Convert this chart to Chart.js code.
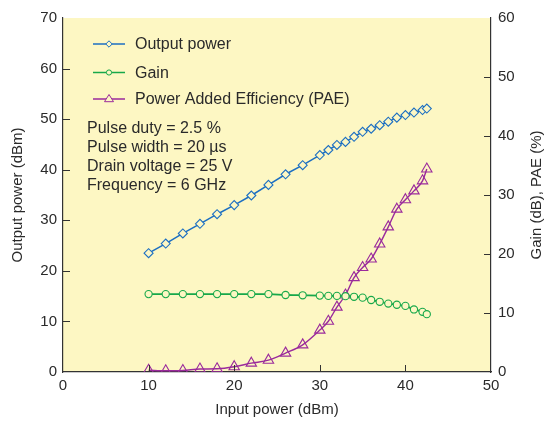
<!DOCTYPE html>
<html>
  <head>
    <title>Output power, gain and PAE</title>
    <meta name="viewport" content="width=device-width, initial-scale=1" />
    <script src="https://cdn.jsdelivr.net/npm/chart.js"></script>
    <style>
      html, body { margin: 0; padding: 0; background: #fff; }
      .chart-box { width: 546px; height: 421px; position: relative; }
    </style>
  </head>
  <body>
    <div class="chart-box">
      <canvas id="paChart"></canvas>
    </div>
    <script>
      // 数据
      const inputPower = [10, 12, 14, 16, 18, 20, 22, 24, 26, 28, 30, 31, 32, 33, 34, 35, 36, 37, 38, 39, 40, 41, 42, 42.5];
      const outputPower = [23.5, 25.4, 27.4, 29.3, 31.2, 33.0, 34.9, 37.0, 39.1, 40.9, 42.9, 43.9, 44.9, 45.5, 46.5, 47.5, 48.1, 48.8, 49.5, 50.3, 50.8, 51.3, 51.8, 52.1];
      const gain = [13.2, 13.2, 13.2, 13.2, 13.2, 13.2, 13.2, 13.2, 13.05, 13.0, 12.95, 12.9, 12.9, 12.85, 12.75, 12.6, 12.2, 11.9, 11.6, 11.4, 11.2, 10.6, 10.2, 9.8];
      const pae = [0.3, 0.2, 0.25, 0.5, 0.55, 0.9, 1.5, 2.0, 3.2, 4.6, 7.1, 8.6, 11.0, 13.05, 16.0, 17.7, 19.15, 21.7, 24.6, 27.6, 29.2, 30.7, 32.4, 34.4];
      const seriesNames = ['Output power', 'Gain', 'Power Added Efficiency (PAE)'];
      const notes = ['Pulse duty = 2.5 %', 'Pulse width = 20 \u00b5s', 'Drain voltage = 25 V', 'Frequency = 6 GHz'];
      const axisTitles = { x: 'Input power (dBm)', y: 'Output power (dBm)', y2: 'Gain (dB), PAE (%)' };

      const fontName = '"Liberation Sans", Arial, sans-serif';
      const textColor = '#2a2a2a';
      const fillColor = '#fdf7c3';
      const colors = ['#1c6fc2', '#17a84a', '#9a2a9c'];
      const pointStyles = ['rectRot', 'circle', 'triangle'];

      function toXY(ys) {
        return ys.map((y, i) => ({ x: inputPower[i], y: y }));
      }

      // 黄色背景
      const bgPlugin = {
        id: 'bg',
        beforeDraw(chart) {
          const a = chart.chartArea;
          const ctx = chart.ctx;
          ctx.save();
          ctx.fillStyle = fillColor;
          ctx.fillRect(a.left, a.top, a.right - a.left, a.bottom - a.top);
          ctx.restore();
        }
      };

      // 向内的刻度线 + 坐标轴标题
      const tickPlugin = {
        id: 'innerTicks',
        afterDraw(chart) {
          const ctx = chart.ctx;
          const a = chart.chartArea;
          const len = 7;
          ctx.save();
          ctx.strokeStyle = '#333';
          ctx.lineWidth = 1;
          ctx.beginPath();
          const x = chart.scales.x;
          x.ticks.forEach(t => {
            if (t.value <= x.min || t.value >= x.max) return;
            const px = Math.round(x.getPixelForValue(t.value)) + 0.5;
            ctx.moveTo(px, a.bottom); ctx.lineTo(px, a.bottom - len);
          });
          const y = chart.scales.y;
          y.ticks.forEach(t => {
            if (t.value <= y.min || t.value >= y.max) return;
            const py = Math.round(y.getPixelForValue(t.value)) + 0.5;
            ctx.moveTo(a.left, py); ctx.lineTo(a.left + len, py);
          });
          const y2 = chart.scales.y2;
          y2.ticks.forEach(t => {
            if (t.value <= y2.min || t.value >= y2.max) return;
            const py = Math.round(y2.getPixelForValue(t.value)) + 0.5;
            ctx.moveTo(a.right, py); ctx.lineTo(a.right - len, py);
          });
          ctx.stroke();

          // 标题
          ctx.fillStyle = textColor;
          ctx.font = '15px ' + fontName;
          ctx.textAlign = 'center';
          ctx.textBaseline = 'middle';
          ctx.fillText(axisTitles.x, (a.left + a.right) / 2, 410);
          const midY = (a.top + a.bottom) / 2;
          ctx.save();
          ctx.translate(18, midY);
          ctx.rotate(-Math.PI / 2);
          ctx.fillText(axisTitles.y, 0, 0);
          ctx.restore();
          ctx.save();
          ctx.translate(537, midY);
          ctx.rotate(-Math.PI / 2);
          ctx.fillText(axisTitles.y2, 0, 0);
          ctx.restore();
          ctx.restore();
        }
      };

      function drawMarker(ctx, style, cx, cy, color) {
        ctx.strokeStyle = color;
        ctx.fillStyle = fillColor;
        ctx.lineWidth = 1;
        ctx.beginPath();
        if (style === 'rectRot') {
          const r = 3.2;
          ctx.moveTo(cx, cy - r); ctx.lineTo(cx + r, cy); ctx.lineTo(cx, cy + r); ctx.lineTo(cx - r, cy); ctx.closePath();
        } else if (style === 'circle') {
          ctx.arc(cx, cy, 2.6, 0, Math.PI * 2);
        } else {
          const r = 4.5;
          ctx.moveTo(cx, cy - r); ctx.lineTo(cx + r, cy + r * 0.6); ctx.lineTo(cx - r, cy + r * 0.6); ctx.closePath();
        }
        ctx.fill();
        ctx.stroke();
      }

      // 图例和说明文字
      const legendPlugin = {
        id: 'innerLegend',
        afterDatasetsDraw(chart) {
          const ctx = chart.ctx;
          const a = chart.chartArea;
          const rows = [44, 72.5, 99];
          ctx.save();
          ctx.font = '16px ' + fontName;
          ctx.textBaseline = 'middle';
          seriesNames.forEach((name, i) => {
            const y = rows[i];
            ctx.strokeStyle = colors[i];
            ctx.lineWidth = 1.5;
            ctx.beginPath();
            ctx.moveTo(a.left + 30, y); ctx.lineTo(a.left + 62, y);
            ctx.stroke();
            drawMarker(ctx, pointStyles[i], a.left + 46, y, colors[i]);
            ctx.fillStyle = textColor;
            ctx.fillText(name, a.left + 72, y + 1);
          });
          notes.forEach((line, i) => {
            ctx.fillStyle = textColor;
            ctx.fillText(line, a.left + 24, 129 + i * 18.7);
          });
          ctx.restore();
        }
      };

      const tickFont = { family: fontName, size: 15 };
      const ctx = document.getElementById('paChart').getContext('2d');
      const paChart = new Chart(ctx, {
        type: 'line',
        data: {
          datasets: [
            {
              label: seriesNames[0],
              data: toXY(outputPower),
              yAxisID: 'y',
              borderColor: colors[0],
              backgroundColor: fillColor,
              pointStyle: 'rectRot',
              pointRadius: 4.5,
              borderWidth: 1.5,
              pointBorderWidth: 1.1,
              tension: 0
            },
            {
              label: seriesNames[1],
              data: toXY(gain),
              yAxisID: 'y2',
              borderColor: colors[1],
              backgroundColor: fillColor,
              pointStyle: 'circle',
              pointRadius: 3.6,
              borderWidth: 1.8,
              pointBorderWidth: 1.1,
              cubicInterpolationMode: 'monotone'
            },
            {
              label: seriesNames[2],
              data: toXY(pae),
              yAxisID: 'y2',
              borderColor: colors[2],
              backgroundColor: 'rgba(0,0,0,0)',
              pointStyle: 'triangle',
              pointRadius: 6,
              borderWidth: 1.4,
              pointBorderWidth: 1.1,
              cubicInterpolationMode: 'monotone'
            }
          ]
        },
        options: {
          responsive: true,
          maintainAspectRatio: false,
          animation: false,
          layout: { padding: { top: 18, left: 0, right: 0, bottom: 0 } },
          plugins: {
            legend: { display: false },
            tooltip: { enabled: false }
          },
          scales: {
            x: {
              type: 'linear',
              min: 0, max: 50,
              ticks: { stepSize: 10, color: textColor, font: tickFont, padding: 5 },
              grid: { drawOnChartArea: false, drawTicks: false },
              border: { display: true, color: '#333', width: 1.2 },
              afterFit(s) { s.height = 49; }
            },
            y: {
              position: 'left',
              min: 0, max: 70,
              ticks: { stepSize: 10, color: textColor, font: tickFont, padding: 6 },
              grid: { drawOnChartArea: false, drawTicks: false },
              border: { display: true, color: '#333', width: 1.2 },
              afterFit(s) { s.width = 63; }
            },
            y2: {
              position: 'right',
              min: 0, max: 60,
              ticks: { stepSize: 10, color: textColor, font: tickFont, padding: 7 },
              grid: { drawOnChartArea: false, drawTicks: false },
              border: { display: true, color: '#333', width: 1.2 },
              afterFit(s) { s.width = 55; }
            }
          }
        },
        plugins: [bgPlugin, tickPlugin, legendPlugin]
      });
    </script>
  </body>
</html>
